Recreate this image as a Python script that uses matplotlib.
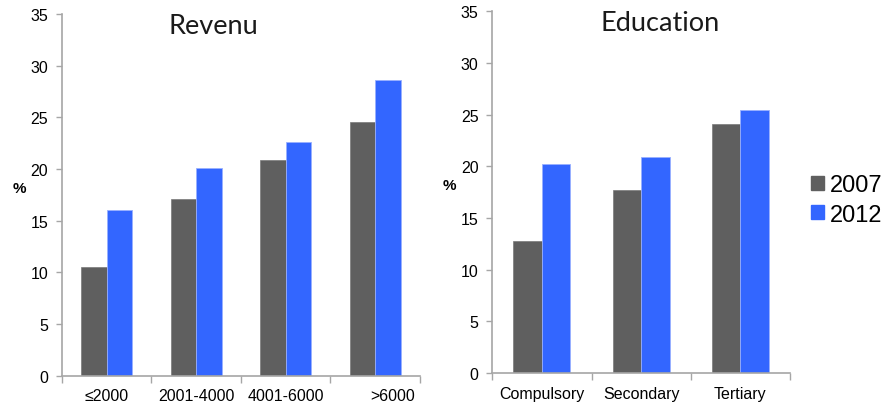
import numpy as np
import matplotlib
matplotlib.use("Agg")
import matplotlib.pyplot as plt
import matplotlib.transforms as mtransforms
from matplotlib.patches import Patch

plt.rcParams['font.family'] = ['Liberation Sans', 'DejaVu Sans']

# data
years = ["2007", "2012"]
revenu_cats = ["≤2000", "2001-4000", "4001-6000", ">6000"]
revenu_2007 = [10.5, 17.1, 20.9, 24.5]
revenu_2012 = [16.0, 20.1, 22.6, 28.6]

edu_cats = ["Compulsory", "Secondary", "Tertiary"]
edu_2007 = [12.8, 17.7, 24.1]
edu_2012 = [20.2, 20.9, 25.4]

yticks = [0, 5, 10, 15, 20, 25, 30, 35]

gray = '#5f5f5f'
blue = '#3366ff'
axis_col = '#a6a6a6'


def panel(ax, cats, v07, v12, title, width, title_x):
    x = np.arange(len(cats))
    ax.bar(x - width / 2, v07, width, color=gray, edgecolor='#7a7a7a', linewidth=0.5)
    ax.bar(x + width / 2, v12, width, color=blue, edgecolor='#99b0ff', linewidth=0.6)
    ax.set_xlim(-0.5, len(cats) - 0.5)
    ax.set_ylim(0, 35)
    ax.set_yticks(yticks)
    ax.set_xticks(np.arange(len(cats) + 1) - 0.5)
    ax.set_xticklabels([])
    ax.set_xticks(x, minor=True)
    ax.set_xticklabels(cats, minor=True)
    ax.tick_params(axis='x', which='minor', length=0, pad=9, labelsize=11.5)
    ax.tick_params(axis='x', which='major', length=5, color=axis_col, width=1)
    ax.tick_params(axis='y', length=4, color=axis_col, width=1, pad=6, labelsize=11.5)
    for s in ['top', 'right']:
        ax.spines[s].set_visible(False)
    for s in ['left', 'bottom']:
        ax.spines[s].set_color(axis_col)
        ax.spines[s].set_linewidth(1.2)
    ax.set_ylabel('%', rotation=0, fontweight='bold', fontsize=11, labelpad=8)
    ax.text(title_x, 33.2, title, transform=ax.get_yaxis_transform(),
            ha='center', va='baseline', fontsize=19.5,
            family=['Lato', 'DejaVu Sans'], fontweight='normal', color='#1a1a1a')


fig = plt.figure(figsize=(8.88, 4.06), dpi=100)
ax1 = fig.add_axes([0.0698, 0.0722, 0.403, 0.891])
ax2 = fig.add_axes([0.5544, 0.0788, 0.3352, 0.891])

panel(ax1, revenu_cats, revenu_2007, revenu_2012, "Revenu", 0.285, 0.422)
panel(ax2, edu_cats, edu_2007, edu_2012, "Education", 0.287, 0.564)

# the last revenue label sits a bit right of its group in the original
last = ax1.get_xticklabels(minor=True)[-1]
last.set_transform(last.get_transform() +
                   mtransforms.ScaledTranslation(0.18, 0, fig.dpi_scale_trans))

handles = [Patch(color=gray), Patch(color=blue)]
fig.legend(handles, years, loc='center left', bbox_to_anchor=(0.913, 0.505),
           frameon=False, fontsize=17, handlelength=0.55, handleheight=0.55,
           handletextpad=0.25, labelspacing=0.3, borderaxespad=0, borderpad=0)

fig.savefig('out.png', dpi=100)
